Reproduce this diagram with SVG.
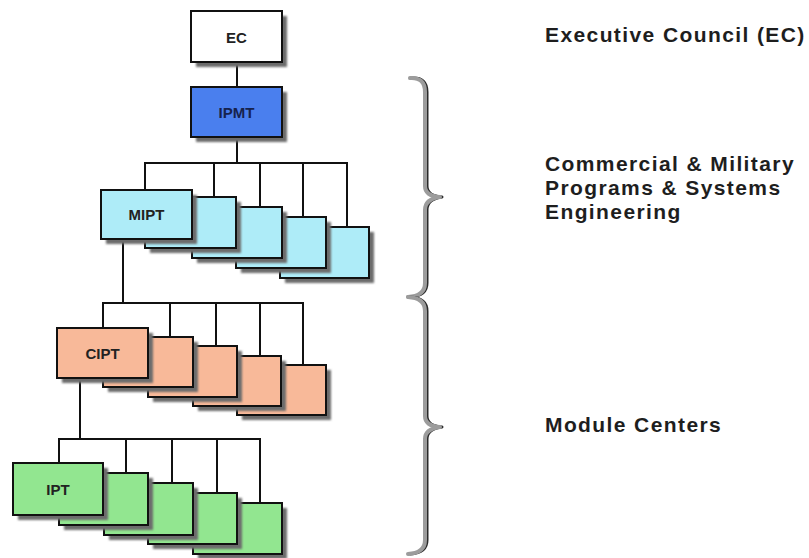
<svg xmlns="http://www.w3.org/2000/svg" width="809" height="558" viewBox="0 0 809 558">
  <style>
    .shadow { fill: #6c6c6c; filter: url(#soft); }
    .box { stroke: #111; stroke-width: 2; }
    .ec { fill: #ffffff; }
    .ipmt { fill: #4a7fee; }
    .mipt { fill: #aeecf8; }
    .cipt { fill: #f8b999; }
    .ipt { fill: #92e690; }
    .lbl { font-family: "Liberation Sans", Arial, sans-serif; font-weight: bold; font-size: 15px; fill: #222; text-anchor: middle; dominant-baseline: central; }
    .lbl-dark { fill: #16224d; }
    .cap { font-family: "Liberation Sans", Arial, sans-serif; font-weight: bold; font-size: 21px; letter-spacing: 1.4px; fill: #1e1e1e; }
    .wire { stroke: #111; stroke-width: 2; fill: none; }
    .brace-edge { stroke: #2a2a2a; stroke-width: 3; fill: none; stroke-linecap: round; stroke-linejoin: round; }
    .brace-face { stroke: #9c9c9c; stroke-width: 4; fill: none; stroke-linecap: round; stroke-linejoin: round; }
  </style>
  <defs>
    <filter id="soft" x="-10%" y="-10%" width="120%" height="120%">
      <feGaussianBlur stdDeviation="0.8"/>
    </filter>
  </defs>

  <rect width="809" height="558" fill="#ffffff"/>

  <!-- connectors -->
  <g id="connectors">
    <line class="wire" x1="237" y1="62" x2="237" y2="87"/>
    <!-- IPMT to program teams -->
    <polyline class="wire" points="237,137 237,163"/>
    <line class="wire" x1="144" y1="163" x2="348" y2="163"/>
    <line class="wire" x1="145" y1="163" x2="145" y2="190"/>
    <line class="wire" x1="214" y1="163" x2="214" y2="197"/>
    <line class="wire" x1="260" y1="163" x2="260" y2="207"/>
    <line class="wire" x1="303" y1="163" x2="303" y2="217"/>
    <line class="wire" x1="347" y1="163" x2="347" y2="227"/>
    <!-- MIPT to centre teams -->
    <line class="wire" x1="123" y1="239" x2="123" y2="303"/>
    <line class="wire" x1="102" y1="303" x2="304" y2="303"/>
    <line class="wire" x1="103" y1="303" x2="103" y2="328"/>
    <line class="wire" x1="170" y1="303" x2="170" y2="337"/>
    <line class="wire" x1="216" y1="303" x2="216" y2="346"/>
    <line class="wire" x1="260" y1="303" x2="260" y2="356"/>
    <line class="wire" x1="303" y1="303" x2="303" y2="365"/>
    <!-- CIPT to product teams -->
    <line class="wire" x1="80" y1="378" x2="80" y2="439"/>
    <line class="wire" x1="58" y1="439" x2="261" y2="439"/>
    <line class="wire" x1="59" y1="439" x2="59" y2="463"/>
    <line class="wire" x1="126" y1="439" x2="126" y2="473"/>
    <line class="wire" x1="172" y1="439" x2="172" y2="483"/>
    <line class="wire" x1="217" y1="439" x2="217" y2="493"/>
    <line class="wire" x1="260" y1="439" x2="260" y2="503"/>
  </g>

  <!-- top nodes -->
  <g id="ec">
    <rect class="shadow" x="196" y="16" width="91" height="51"/>
    <rect class="box ec" x="191" y="11" width="91" height="51"/>
    <text class="lbl" x="236.5" y="37">EC</text>
  </g>
  <g id="ipmt">
    <rect class="shadow" x="196" y="92" width="91" height="50"/>
    <rect class="box ipmt" x="191" y="87" width="91" height="50"/>
    <text class="lbl lbl-dark" x="236.5" y="112">IPMT</text>
  </g>

  <!-- program team stack (back to front) -->
  <g id="mipt-5"><rect class="shadow" x="285" y="232" width="89" height="51"/><rect class="box mipt" x="280" y="227" width="89" height="51"/></g>
  <g id="mipt-4"><rect class="shadow" x="241" y="222" width="90" height="51"/><rect class="box mipt" x="236" y="217" width="90" height="51"/></g>
  <g id="mipt-3"><rect class="shadow" x="197" y="212" width="90" height="51"/><rect class="box mipt" x="192" y="207" width="90" height="51"/></g>
  <g id="mipt-2"><rect class="shadow" x="150" y="202" width="91" height="51"/><rect class="box mipt" x="145" y="197" width="91" height="51"/></g>
  <g id="mipt">
    <rect class="shadow" x="106" y="195" width="91" height="49"/>
    <rect class="box mipt" x="101" y="190" width="91" height="49"/>
    <text class="lbl" x="146.5" y="214.5">MIPT</text>
  </g>

  <!-- centre team stack -->
  <g id="cipt-5"><rect class="shadow" x="242" y="370" width="89" height="50"/><rect class="box cipt" x="237" y="365" width="89" height="50"/></g>
  <g id="cipt-4"><rect class="shadow" x="198" y="361" width="88" height="50"/><rect class="box cipt" x="193" y="356" width="88" height="50"/></g>
  <g id="cipt-3"><rect class="shadow" x="153" y="351" width="89" height="51"/><rect class="box cipt" x="148" y="346" width="89" height="51"/></g>
  <g id="cipt-2"><rect class="shadow" x="108" y="342" width="90" height="50"/><rect class="box cipt" x="103" y="337" width="90" height="50"/></g>
  <g id="cipt">
    <rect class="shadow" x="62" y="333" width="91" height="50"/>
    <rect class="box cipt" x="57" y="328" width="91" height="50"/>
    <text class="lbl" x="102.5" y="353">CIPT</text>
  </g>

  <!-- product team stack -->
  <g id="ipt-5"><rect class="shadow" x="198" y="508" width="89" height="51"/><rect class="box ipt" x="193" y="503" width="89" height="51"/></g>
  <g id="ipt-4"><rect class="shadow" x="153" y="498" width="89" height="51"/><rect class="box ipt" x="148" y="493" width="89" height="51"/></g>
  <g id="ipt-3"><rect class="shadow" x="109" y="488" width="89" height="52"/><rect class="box ipt" x="104" y="483" width="89" height="52"/></g>
  <g id="ipt-2"><rect class="shadow" x="64" y="478" width="89" height="52"/><rect class="box ipt" x="59" y="473" width="89" height="52"/></g>
  <g id="ipt">
    <rect class="shadow" x="18" y="468" width="90" height="52"/>
    <rect class="box ipt" x="13" y="463" width="90" height="52"/>
    <text class="lbl" x="58" y="489">IPT</text>
  </g>

  <!-- braces -->
  <g id="brace-programs">
    <path class="brace-edge" transform="translate(2,0)" d="M410 78 Q425 77 425 92 L425 186 Q425 196 440 197 Q425 199 425 210 L425 283 Q425 296 408 297"/>
    <path class="brace-face" d="M410 78 Q425 77 425 92 L425 186 Q425 196 440 197 Q425 199 425 210 L425 283 Q425 296 408 297"/>
  </g>
  <g id="brace-centers">
    <path class="brace-edge" transform="translate(2,0)" d="M408 297 Q425 298 425 311 L425 416 Q425 426 440 427 Q425 429 425 439 L425 540 Q425 553 408 554"/>
    <path class="brace-face" d="M408 297 Q425 298 425 311 L425 416 Q425 426 440 427 Q425 429 425 439 L425 540 Q425 553 408 554"/>
  </g>

  <!-- side captions -->
  <g id="captions">
    <text class="cap" x="545" y="42">Executive Council (EC)</text>
    <text class="cap" x="545" y="171">Commercial &amp; Military</text>
    <text class="cap" x="545" y="195">Programs &amp; Systems</text>
    <text class="cap" x="545" y="219">Engineering</text>
    <text class="cap" x="545" y="432">Module Centers</text>
  </g>
</svg>
